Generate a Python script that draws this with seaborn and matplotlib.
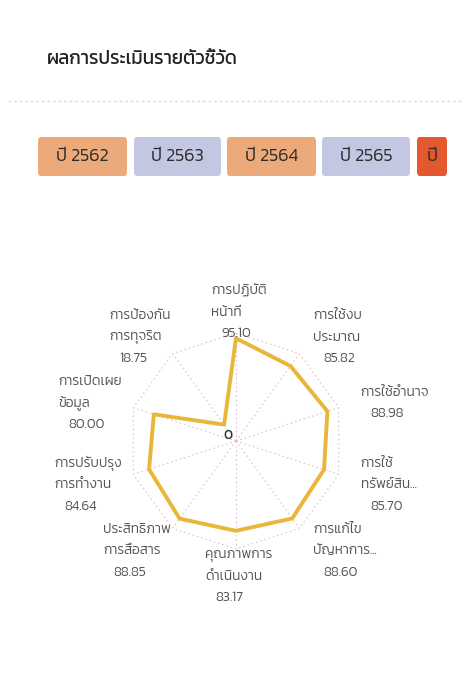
import numpy as np
import matplotlib
matplotlib.use("Agg")
import matplotlib.pyplot as plt
import seaborn as sns
from matplotlib import font_manager
from matplotlib.patches import FancyBboxPatch
from matplotlib.lines import Line2D

# ---------------- data ----------------
title = "ผลการประเมินรายตัวชี้วัด"
year_buttons = ["ปี 2562", "ปี 2563", "ปี 2564", "ปี 2565", "ปี"]
button_colors = ["#ECA97A", "#C4C7E2", "#ECA97A", "#C4C7E2", "#E3582D"]
indicators = [
    "การปฏิบัติ\nหน้าที่",
    "การใช้งบ\nประมาณ",
    "การใช้อำนาจ",
    "การใช้\nทรัพย์สิน...",
    "การแก้ไข\nปัญหาการ...",
    "คุณภาพการ\nดำเนินงาน",
    "ประสิทธิภาพ\nการสื่อสาร",
    "การปรับปรุง\nการทำงาน",
    "การเปิดเผย\nข้อมูล",
    "การป้องกัน\nการทุจริต",
]
scores = [95.10, 85.82, 88.98, 85.70, 88.60, 83.17, 88.85, 84.64, 80.00, 18.75]
r_max = 100

# ---------------- fonts ----------------
available = {f.name for f in font_manager.fontManager.ttflist}
def pick(names):
    for n in names:
        if n in available:
            return n
    return "DejaVu Sans"
FONT = pick(["Kanit", "Prompt", "Mitr", "Sarabun", "Noto Sans Thai"])

sns.set_theme(style="white")
plt.rcParams["font.family"] = [FONT, "DejaVu Sans"]

W, H = 465, 697
fig = plt.figure(figsize=(W / 100, H / 100), dpi=100)

def fx(px):
    return px / W

def fy(py):
    return 1 - py / H

# title
fig.text(fx(47), fy(60), title, fontsize=13.5, color="#222222", ha="left", va="center")

# faint divider
fig.add_artist(Line2D([fx(8), fx(462)], [fy(101), fy(101)], color="#dcdcdc",
                      lw=1.0, linestyle=(0, (2, 2))))

# year buttons
bx = [38, 134, 227, 322, 417]
bw = [89, 87, 89, 88, 30]
for x0, w, lab, col in zip(bx, bw, year_buttons, button_colors):
    p = FancyBboxPatch((fx(x0), fy(176)), fx(w), (176 - 137) / H,
                       boxstyle="round,pad=0,rounding_size=0.006",
                       transform=fig.transFigure, facecolor=col, edgecolor="none")
    fig.add_artist(p)
    fig.text(fx(x0 + w / 2), fy(156.5), lab, fontsize=13, color="#2b2b2b",
             ha="center", va="center", fontweight=300)

# radar
cx, cy, R = 236, 441, 108
ax = fig.add_axes([fx(cx - R), fy(cy + R), 2 * R / W, 2 * R / H], projection="polar")
ax.set_theta_offset(np.pi / 2)
ax.set_theta_direction(-1)
ax.set_ylim(0, r_max)
ax.grid(False)
ax.set_xticks([])
ax.set_yticks([])
ax.spines["polar"].set_visible(False)
ax.set_facecolor("none")

n = len(indicators)
theta = np.arange(n) * 2 * np.pi / n
tc = np.append(theta, theta[0])

grid_col = "#e2bfd0"
ax.plot(tc, [r_max] * (n + 1), color=grid_col, lw=0.8, linestyle=(0, (1.5, 2.5)))
for t in theta:
    ax.plot([t, t], [0, r_max], color=grid_col, lw=0.8, linestyle=(0, (1.5, 2.5)))

vals = np.append(scores, scores[0])
sns.lineplot(x=tc, y=vals, ax=ax, color="#E8B73A", lw=2.8, sort=False,
             estimator=None)
ax.set_ylim(0, r_max)
ax.set_xlabel("")
ax.set_ylabel("")

# center zero tick
ax.annotate("0", xy=(0, 0), xytext=(-6, 4), textcoords="offset points",
            fontsize=10, color="#333333", ha="center", va="center")

# indicator labels (each line drawn separately for exact spacing)
PT = 0.72      # px -> pt
LINE = 21.5    # px between lines
INDENT = 10    # px indent of the value line
renderer = fig.canvas.get_renderer()
for t, name, v in zip(theta, indicators, scores):
    lines = name.split("\n") + [f"{v:.2f}"]
    texts = []
    for ln in lines:
        a = ax.annotate(ln, xy=(t, r_max), xytext=(0, 0), textcoords="offset points",
                        fontsize=9.8, color="#555555", ha="left", va="baseline",
                        fontweight=300, annotation_clip=False)
        texts.append(a)
    widths = [a.get_window_extent(renderer).width for a in texts]
    block_w = max(max(widths[:-1]), INDENT + widths[-1])
    s = np.sin(t)
    if s > 0.1:
        left = 23 * s
    elif s < -0.1:
        left = -(28 * abs(s) - 15) - block_w
    else:
        left = 3 - block_w / 2
    m = len(texts)
    cyo = np.cos(t) * 24
    for k, a in enumerate(texts):
        x = left + (INDENT if k == m - 1 else 0)
        yc = cyo - (k - (m - 1) / 2) * LINE
        a.xyann = (x * PT, (yc - 6.5) * PT)

fig.savefig("out.png", dpi=100)
